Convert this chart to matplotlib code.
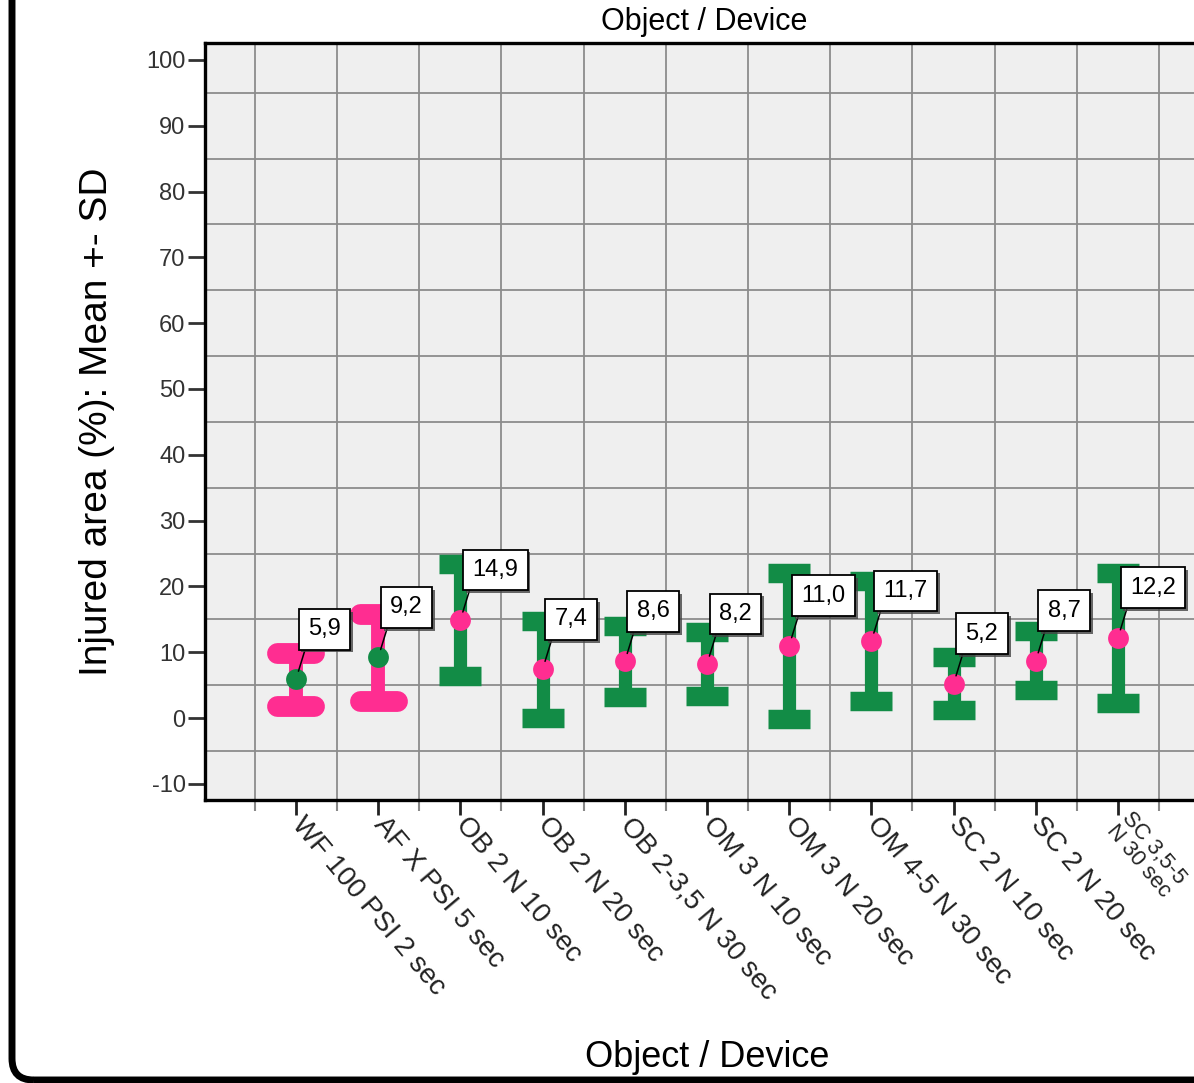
"""Injured area per object / device: mean +- SD error bars with value callouts."""

import numpy as np
import matplotlib.pyplot as plt
from matplotlib import patheffects
from matplotlib.patches import FancyBboxPatch

plt.rcParams['font.family'] = ['Liberation Sans', 'DejaVu Sans']
plt.rcParams['axes.unicode_minus'] = False

# =============================================================================
# Data
categories = ["WF 100 PSI 2 sec", "AF X PSI 5 sec", "OB 2 N 10 sec",
              "OB 2 N 20 sec", "OB 2-3,5 N 30 sec", "OM 3 N 10 sec",
              "OM 3 N 20 sec", "OM 4-5 N 30 sec", "SC 2 N 10 sec",
              "SC 2 N 20 sec", "SC 3,5-5\nN 30 sec"]
means = [5.9, 9.2, 14.9, 7.4, 8.6, 8.2, 11.0, 11.7, 5.2, 8.7, 12.2]
sds = [4.0, 6.6, 8.5, 7.4, 5.4, 4.9, 11.1, 9.1, 4.0, 4.5, 9.9]
y_ticks = list(range(-10, 101, 10))

GREEN = "#128c46"
PINK = "#ff2d91"

# -----------------------------------------------------------------------------
W, H = 1194, 1083
fig = plt.figure(figsize=(W / 100, H / 100), dpi=100)
ax = fig.add_axes([205 / W, 283 / H, 989 / W, 757 / H])
ax.set_facecolor("#efefef")

n = len(categories)
for i, (m, s, label) in enumerate(zip(means, sds, categories)):
    pressure = "PSI" in label
    bar_col = PINK if pressure else GREEN
    dot_col = GREEN if pressure else PINK
    lo, hi = m - s, m + s
    if pressure:
        ax.vlines(i, lo, hi, color=bar_col, lw=10, zorder=3)
        caps = ax.hlines([lo, hi], i - 0.225, i + 0.225, color=bar_col,
                         lw=15, zorder=3)
        caps.set_capstyle("round")
    else:
        ax.vlines(i, lo, hi, color=bar_col, lw=9.5, zorder=3)
        caps = ax.hlines([lo, hi], i - 0.255, i + 0.255, color=bar_col,
                         lw=14, zorder=3)
        caps.set_capstyle("butt")
    ax.plot(i, m, "o", color=dot_col, ms=15, mec="none", zorder=4)

    ann = ax.annotate(f"{m:.1f}".replace(".", ","), xy=(i, m),
                      xytext=(12, 39), textcoords="offset pixels",
                      ha="left", va="bottom", fontsize=17, zorder=6,
                      bbox=dict(boxstyle="square,pad=0.4", fc="white",
                                ec="black", lw=1.3),
                      arrowprops=dict(arrowstyle="-", color="black", lw=1.1,
                                      relpos=(0, 0), shrinkA=0, shrinkB=6))
    ann.get_bbox_patch().set_path_effects([
        patheffects.SimplePatchShadow(offset=(2, -2), shadow_rgbFace="#444444",
                                      alpha=0.8),
        patheffects.Normal()])

ax.set_xlim(-1.107, 10.925)
ax.set_ylim(-12.46, 102.58)

ax.set_xticks(range(n))
ax.set_xticklabels(categories, rotation=-50, ha="left", va="center",
                   rotation_mode="anchor", fontsize=20, color="#222222",
                   linespacing=0.9)
# the wrapped last label sits at the cut right edge, keep it inside
ax.get_xticklabels()[-1].set_fontsize(16)
ax.set_xticks(np.arange(-0.5, n), minor=True)
ax.set_yticks(y_ticks)
ax.set_yticklabels([str(t) for t in y_ticks], fontsize=17, color="#333333")
ax.set_yticks(np.arange(-5, 100, 10), minor=True)

ax.tick_params(axis="x", which="major", length=11, width=2, color="#222222", pad=4)
ax.tick_params(axis="x", which="minor", length=8, width=1.5, color="#888888")
ax.tick_params(axis="y", which="major", length=12, width=2, color="#333333", pad=2)
ax.tick_params(axis="y", which="minor", length=0)

ax.set_axisbelow(True)
ax.grid(True, which="minor", color="#8c8c8c", lw=1.3)
ax.grid(False, which="major")

for side in ("left", "top", "bottom"):
    ax.spines[side].set_linewidth(2.4)
    ax.spines[side].set_color("black")
ax.spines["right"].set_visible(False)

# Axis label, x label and title
fig.text(97 / W, 1 - 422 / H, "Injured area (%): Mean +- SD", rotation=90,
         ha="center", va="center", fontsize=28)
fig.text(707 / W, 1 - 1067 / H, "Object / Device", ha="center",
         va="baseline", fontsize=26)
fig.text(704 / W, 1 - 30 / H, "Object / Device", ha="center",
         va="baseline", fontsize=22)

# Outer rounded frame, open to the top and right
frame = FancyBboxPatch((12 / W, 3 / H), 1.5, 1.5,
                       boxstyle="round,pad=0,rounding_size=0.018",
                       mutation_aspect=W / H, transform=fig.transFigure,
                       fill=False, ec="black", lw=5)
fig.add_artist(frame)

fig.savefig("out.png", dpi=100)
